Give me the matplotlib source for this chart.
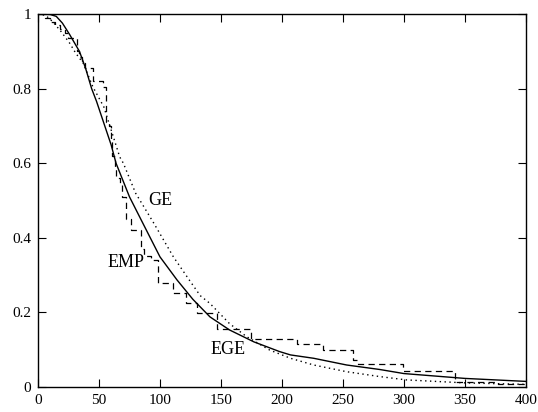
import matplotlib
matplotlib.use("Agg")
import matplotlib.pyplot as plt

# EGE (solid) curve readings
ege_x = [0, 10, 15, 20, 26, 34, 39, 44, 48, 60, 64, 75, 86, 100, 114, 127, 141, 157, 177, 198, 207, 226, 253, 280, 300, 350, 400]
ege_y = [1.0, 0.999, 0.994, 0.976, 0.945, 0.90, 0.855, 0.80, 0.766, 0.649, 0.60, 0.51, 0.439, 0.349, 0.287, 0.235, 0.188, 0.153, 0.121, 0.095, 0.086, 0.077, 0.059, 0.047, 0.036, 0.023, 0.015]

# GE (dotted) curve readings
ge_x = [0, 3, 6.5, 12, 19, 26, 31, 37, 45, 54, 67, 70, 80, 95, 111, 124, 133, 141, 157, 171, 190, 207, 226, 253, 280, 302, 350, 400]
ge_y = [1.0, 0.999, 0.996, 0.98, 0.953, 0.922, 0.895, 0.869, 0.805, 0.751, 0.617, 0.60, 0.52, 0.439, 0.349, 0.287, 0.245, 0.224, 0.17, 0.135, 0.099, 0.077, 0.059, 0.041, 0.028, 0.019, 0.011, 0.007]

# EMP (dashed, empirical step function) readings
emp_x = [0, 6, 10, 14, 18, 22, 25, 32, 34, 36, 38.5, 45, 53, 56, 58, 60, 61, 63, 64, 67, 69, 72, 76, 84.6, 87, 93, 98, 111, 121, 130, 146.5, 175, 212, 234, 258, 262, 299, 342, 377, 400]
emp_y = [1.0, 0.99, 0.98, 0.97, 0.96, 0.95, 0.935, 0.90, 0.885, 0.87, 0.855, 0.82, 0.805, 0.71, 0.70, 0.66, 0.62, 0.59, 0.56, 0.545, 0.51, 0.45, 0.42, 0.37, 0.35, 0.34, 0.28, 0.252, 0.225, 0.198, 0.155, 0.128, 0.115, 0.10, 0.072, 0.062, 0.044, 0.014, 0.007, 0.007]

x_ticks = [0, 50, 100, 150, 200, 250, 300, 350, 400]
y_ticks = [0, 0.2, 0.4, 0.6, 0.8, 1]
y_tick_labels = ["0", "0.2", "0.4", "0.6", "0.8", "1"]

plt.rcParams['font.family'] = ['Liberation Serif', 'DejaVu Serif']

fig = plt.figure(figsize=(5.38, 4.12), dpi=100)
ax = fig.add_axes([0.0706, 0.0607, 0.907, 0.905])

ax.plot(ege_x, ege_y, color='black', lw=1.0, linestyle='-')
ax.plot(ge_x, ge_y, color='black', lw=1.0, linestyle=(0, (1, 2.5)))
ax.step(emp_x, emp_y, where='post', color='black', lw=0.9, linestyle=(0, (5, 3.5)))

ax.text(90.5, 0.50, "GE", fontsize=13, ha='left', va='center')
ax.text(57, 0.335, "EMP", fontsize=13, ha='left', va='center')
ax.text(141.5, 0.10, "EGE", fontsize=13, ha='left', va='center')

ax.set_xlim(0, 400)
ax.set_ylim(0, 1)
ax.set_xticks(x_ticks)
ax.set_xticklabels([str(v) for v in x_ticks])
ax.set_yticks(y_ticks)
ax.set_yticklabels(y_tick_labels)
ax.tick_params(direction='in', length=6, width=0.8, top=True, right=True, labelsize=11, pad=5)
for s in ax.spines.values():
    s.set_linewidth(1.0)

fig.savefig("out.png", dpi=100)
